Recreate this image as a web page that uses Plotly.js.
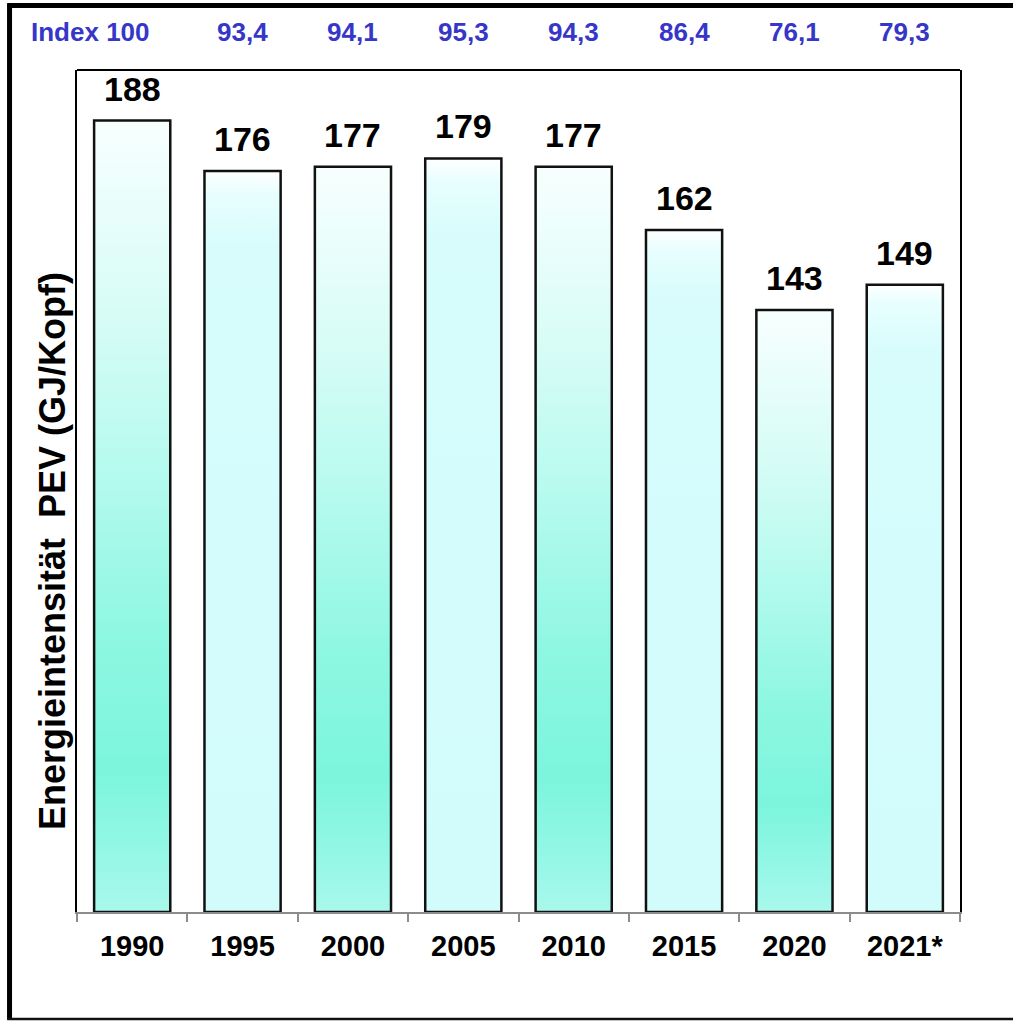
<!DOCTYPE html>
<html>
<head>
<meta charset="utf-8">
<script src="https://cdn.plot.ly/plotly-3.0.1.min.js"></script>
<style>html,body{margin:0;padding:0;background:#fff;}#chart{width:1013px;height:1021px;}</style>
</head>
<body>
<div id="chart"></div>
<script>
// ---- data ----
const years = ['1990', '1995', '2000', '2005', '2010', '2015', '2020', '2021*'];
const values = [188, 176, 177, 179, 177, 162, 143, 149];
const indexLabels = ['Index 100', '93,4', '94,1', '95,3', '94,3', '86,4', '76,1', '79,3'];
const yTitle = 'Energieintensit\u00e4t\u00a0 PEV (GJ/Kopf)';

// ---- styles ----
const FONT = 'Liberation Sans, Arial, Helvetica, sans-serif';
const BAR_W = 0.69;
const gradA = [[0, '#a9f8ec'], [0.08, '#93f7e5'], [0.18, '#7cf5dc'], [0.35, '#8ef7e2'], [0.55, '#b4faee'], [0.75, '#d6fcf6'], [0.92, '#edfefc'], [1, '#f7fffe']];
const gradB = [[0, '#d2fbfb'], [0.5, '#d4fcfc'], [0.9, '#d8fcfc'], [0.97, '#e8fefe'], [1, '#ffffff']];

const idx = years.map((_, i) => i);
const traces = [];

// gradient fills of the bars (base subplot)
values.forEach((v, i) => {
  traces.push({
    type: 'scatter', mode: 'lines', xaxis: 'x', yaxis: 'y',
    x: [i - BAR_W / 2, i - BAR_W / 2, i + BAR_W / 2, i + BAR_W / 2, i - BAR_W / 2],
    y: [0, v, v, 0, 0],
    fill: 'toself',
    fillgradient: { type: 'vertical', colorscale: (i % 2 === 0) ? gradA : gradB },
    line: { width: 0, color: 'rgba(0,0,0,0)' },
    hoverinfo: 'skip', showlegend: false
  });
});

// bar outlines (overlay subplot, drawn on top)
traces.push({
  type: 'bar', xaxis: 'x', yaxis: 'y2',
  x: idx, y: values, width: BAR_W,
  marker: { color: 'rgba(0,0,0,0)', line: { color: '#111', width: 2.5 } },
  showlegend: false, hoverinfo: 'x+y'
});

const annotations = [];
values.forEach((v, i) => {
  annotations.push({
    xref: 'x', yref: 'y', x: i, y: v, text: String(v),
    showarrow: false, yanchor: 'bottom', yshift: 11,
    font: { family: FONT, size: 34, color: '#000', weight: 'bold' }
  });
});
indexLabels.forEach((t, i) => {
  annotations.push({
    xref: 'x', yref: 'paper', x: i, y: 1, text: t,
    showarrow: false, yanchor: 'middle', yshift: 38,
    xanchor: i === 0 ? 'right' : 'center', xshift: i === 0 ? 20 : 0,
    font: { family: FONT, size: 26, color: '#3636c8', weight: 'bold' }
  });
});
annotations.push({
  xref: 'paper', yref: 'paper', x: -0.0283, y: 0.4287, text: yTitle,
  textangle: -90, showarrow: false, xanchor: 'center', yanchor: 'middle',
  font: { family: FONT, size: 36, color: '#000', weight: 'bold' }
});

const layout = {
  width: 1013, height: 1021,
  margin: { l: 77, r: 53, t: 70, b: 109, pad: 0 },
  paper_bgcolor: '#fff', plot_bgcolor: '#fff',
  showlegend: false,
  xaxis: {
    range: [-0.5, 7.5], tickmode: 'array', tickvals: idx, ticktext: years,
    ticks: '', showgrid: false, zeroline: false, fixedrange: true,
    showline: true, linecolor: '#8c8c8c', linewidth: 2,
    minor: { ticks: 'outside', tick0: -0.5, dtick: 1, ticklen: 8, tickwidth: 2, tickcolor: '#8c8c8c', showgrid: false },
    ticklabelstandoff: 7,
    tickfont: { family: FONT, size: 29, color: '#000', weight: 'bold' }
  },
  yaxis: {
    range: [0, 200], showticklabels: false, ticks: '', showgrid: false, zeroline: false,
    showline: true, linecolor: '#000', linewidth: 2, mirror: true, fixedrange: true
  },
  yaxis2: {
    range: [0, 200], overlaying: 'y', visible: false, showgrid: false, zeroline: false, fixedrange: true
  },
  annotations: annotations,
  shapes: [
    { type: 'line', xref: 'paper', yref: 'paper', x0: 0, x1: 1, y0: 1, y1: 1, line: { color: '#000', width: 2 } },
    { type: 'line', xref: 'paper', yref: 'paper', x0: -0.0764, x1: -0.0764, y0: -0.128, y1: 1.079, line: { color: '#000', width: 5 } },
    { type: 'line', xref: 'paper', yref: 'paper', x0: -0.079, x1: 1.08, y0: 1.0766, y1: 1.0766, line: { color: '#000', width: 5 } },
    { type: 'line', xref: 'paper', yref: 'paper', x0: -0.079, x1: 1.08, y0: -0.1271, y1: -0.1271, line: { color: '#111', width: 2.5 } }
  ]
};

Plotly.newPlot('chart', traces, layout, { staticPlot: true, displayModeBar: false });
</script>
</body>
</html>
